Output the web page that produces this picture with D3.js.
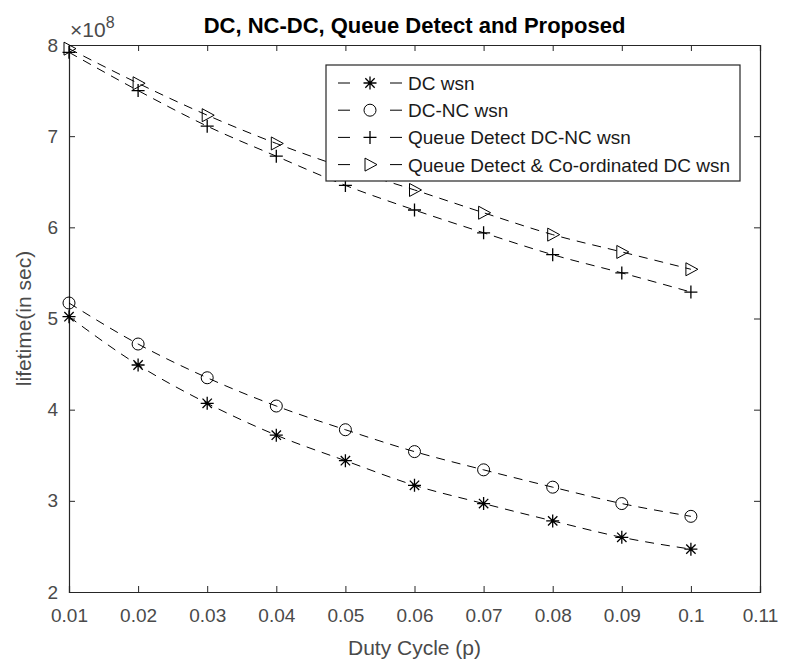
<!DOCTYPE html>
<html>
<head>
<meta charset="utf-8">
<script src="https://cdn.jsdelivr.net/npm/d3@7"></script>
<style>
  body { margin: 0; background: #fff; }
  svg text { font-family: "Liberation Sans", Arial, sans-serif; }
</style>
</head>
<body>
<div id="chart"></div>
<script>
// duty cycle values (x)
const dutyCycle = [0.01, 0.02, 0.03, 0.04, 0.05, 0.06, 0.07, 0.08, 0.09, 0.1];

// lifetime (sec)
const dcWsn      = [5.02e8, 4.49e8, 4.07e8, 3.72e8, 3.44e8, 3.17e8, 2.97e8, 2.78e8, 2.60e8, 2.47e8];
const dcNcWsn    = [5.17e8, 4.72e8, 4.35e8, 4.04e8, 3.78e8, 3.54e8, 3.34e8, 3.15e8, 2.97e8, 2.83e8];
const queueDcNc  = [7.92e8, 7.50e8, 7.11e8, 6.78e8, 6.46e8, 6.19e8, 5.94e8, 5.70e8, 5.50e8, 5.29e8];
const queueCoord = [7.96e8, 7.58e8, 7.23e8, 6.92e8, 6.65e8, 6.41e8, 6.16e8, 5.92e8, 5.73e8, 5.54e8];

const seriesNames = ["DC wsn", "DC-NC wsn", "Queue Detect DC-NC wsn", "Queue Detect & Co-ordinated DC wsn"];
const markerTypes = ["asterisk", "circle", "plus", "triangle"];

const xTicks = [0.01, 0.02, 0.03, 0.04, 0.05, 0.06, 0.07, 0.08, 0.09, 0.1, 0.11];
const yTicks = [2e8, 3e8, 4e8, 5e8, 6e8, 7e8, 8e8];

const W = 797, H = 667;
const margin = {top: 45, right: 37, bottom: 75, left: 69};
const width = W - margin.left - margin.right;
const height = H - margin.top - margin.bottom;

const svg = d3.select("#chart")
  .append("svg")
  .attr("width", W)
  .attr("height", H);

const g = svg.append("g")
  .attr("transform", `translate(${margin.left}, ${margin.top})`);

const x = d3.scaleLinear().domain([0.01, 0.11]).range([0, width]);
const y = d3.scaleLinear().domain([2e8, 8e8]).range([height, 0]);

const axisColor = "#262626";
const tickColor = "#4a4a4a";

// axes, ticks inward like matlab
const xAxis = g.append("g")
  .attr("transform", `translate(0, ${height})`)
  .call(d3.axisBottom(x).tickValues(xTicks).tickSize(-6).tickPadding(17)
        .tickFormat(d => d3.format("")(+d.toFixed(2))));
const xAxisTop = g.append("g")
  .call(d3.axisTop(x).tickValues(xTicks).tickSize(-6).tickFormat(""));
const yAxis = g.append("g")
  .call(d3.axisLeft(y).tickValues(yTicks).tickSize(-6).tickPadding(11)
        .tickFormat(d => d / 1e8));
const yAxisRight = g.append("g")
  .attr("transform", `translate(${width}, 0)`)
  .call(d3.axisRight(y).tickValues(yTicks).tickSize(-6).tickFormat(""));

[xAxis, xAxisTop, yAxis, yAxisRight].forEach(a => {
  a.select(".domain").attr("stroke", axisColor).attr("stroke-width", 1.2);
  a.selectAll(".tick line").attr("stroke", axisColor);
  a.selectAll(".tick text")
    .attr("fill", tickColor)
    .style("font-size", "19px");
});

// exponent label
const expo = svg.append("text")
  .attr("x", margin.left + 1)
  .attr("y", 37)
  .attr("fill", tickColor)
  .style("font-size", "21px");
expo.append("tspan").text("\u00d710");
expo.append("tspan").attr("dy", -9).style("font-size", "16px").text("8");

// title and axis labels
svg.append("text")
  .attr("x", margin.left + width / 2)
  .attr("y", 33)
  .attr("text-anchor", "middle")
  .attr("fill", "#000")
  .style("font-size", "22px")
  .style("font-weight", "bold")
  .text("DC, NC-DC, Queue Detect and Proposed");

svg.append("text")
  .attr("x", margin.left + width / 2)
  .attr("y", 655)
  .attr("text-anchor", "middle")
  .attr("fill", tickColor)
  .style("font-size", "21px")
  .text("Duty Cycle (p)");

svg.append("text")
  .attr("transform", `translate(31, ${margin.top + height / 2}) rotate(-90)`)
  .attr("text-anchor", "middle")
  .attr("fill", tickColor)
  .style("font-size", "21px")
  .text("lifetime(in sec)");

// marker shapes
function drawMarker(sel, type) {
  const s = 6.5;
  if (type === "circle") {
    sel.append("circle").attr("r", 6).attr("fill", "none").attr("stroke", "#000");
  } else if (type === "plus") {
    sel.append("path").attr("d", `M${-s},0H${s}M0,${-s}V${s}`)
      .attr("stroke", "#000").attr("stroke-width", 1.3);
  } else if (type === "asterisk") {
    const d = s * 0.72;
    sel.append("path")
      .attr("d", `M${-s},0H${s}M0,${-s}V${s}M${-d},${-d}L${d},${d}M${-d},${d}L${d},${-d}`)
      .attr("stroke", "#000").attr("stroke-width", 1.3);
  } else if (type === "triangle") {
    sel.append("path").attr("d", "M-5,-6.5L7,0L-5,6.5Z")
      .attr("fill", "none").attr("stroke", "#000");
  }
}

const allSeries = [dcWsn, dcNcWsn, queueDcNc, queueCoord];

const line = d3.line()
  .x((d, i) => x(dutyCycle[i]))
  .y(d => y(d))
  .curve(d3.curveMonotoneX);

allSeries.forEach((vals, k) => {
  g.append("path")
    .datum(vals)
    .attr("d", line)
    .attr("fill", "none")
    .attr("stroke", "#000")
    .attr("stroke-width", 1)
    .attr("stroke-dasharray", "9,7");

  g.append("g")
    .selectAll("g")
    .data(vals)
    .join("g")
      .attr("transform", (d, i) => `translate(${x(dutyCycle[i])}, ${y(d)})`)
      .each(function() { drawMarker(d3.select(this), markerTypes[k]); });
});

// legend
const legend = svg.append("g").attr("transform", "translate(326, 65)");
legend.append("rect")
  .attr("width", 414)
  .attr("height", 116)
  .attr("fill", "#fff")
  .attr("stroke", axisColor)
  .attr("stroke-width", 1.2);

seriesNames.forEach((name, k) => {
  const row = legend.append("g").attr("transform", `translate(0, ${18 + k * 27.2})`);
  row.append("path").attr("d", "M12,0H24M64,0H76").attr("stroke", "#000");
  const m = row.append("g").attr("transform", "translate(44, 0)");
  drawMarker(m, markerTypes[k]);
  row.append("text")
    .attr("x", 82)
    .attr("y", 7)
    .attr("fill", "#1a1a1a")
    .style("font-size", "19px")
    .text(name);
});
</script>
</body>
</html>
